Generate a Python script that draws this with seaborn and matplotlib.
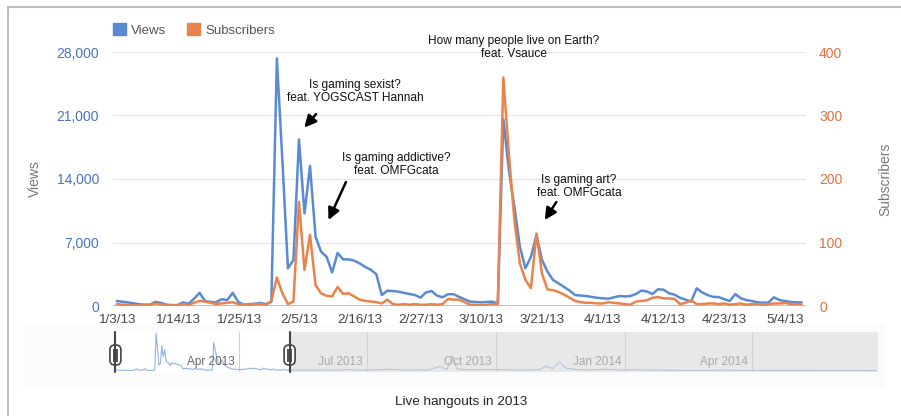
import pandas as pd
import matplotlib
matplotlib.use('Agg')
import matplotlib.pyplot as plt
import matplotlib.dates as mdates
from matplotlib.patches import Patch, Rectangle, FancyBboxPatch
import seaborn as sns

# --- dati (un valore al giorno dal 3/1/2013) ---
start = '2013-01-03'
views = [
    550, 480, 400, 300, 200, 150, 150, 450, 350, 150,
    100, 100, 400, 250, 800, 1450, 550, 450, 400, 750,
    650, 1450, 450, 150, 200, 250, 330, 200, 450, 27300,
    16000, 4150, 5070, 18370, 10210, 15430, 7640, 5990, 5430, 3700,
    5850, 5140, 5140, 5000, 4700, 4300, 4000, 3500, 1210, 1690,
    1650, 1580, 1450, 1320, 1210, 920, 1500, 1650, 1140, 960,
    1300, 1300, 1000, 740, 480, 450, 400, 450, 480, 300,
    20600, 15000, 10950, 6540, 4150, 5430, 7820, 5070, 3780, 2870,
    2500, 2100, 1700, 1210, 1150, 1100, 1000, 900, 850, 800,
    950, 1100, 1050, 1100, 1320, 1700, 1600, 1320, 1840, 1800,
    1400, 1250, 900, 700, 480, 1950, 1500, 1200, 1000, 990,
    750, 550, 1320, 850, 650, 550, 400, 370, 370, 960,
    650, 550, 450, 400, 400,
]
subscribers = [
    3, 2, 2, 1, 1, 1, 2, 4, 3, 1,
    1, 1, 3, 2, 5, 8, 7, 5, 3, 4,
    5, 6, 3, 2, 2, 3, 3, 2, 8, 45,
    20, 3, 7, 164, 57, 112, 33, 20, 16, 15,
    30, 19, 20, 15, 10, 8, 7, 6, 4, 10,
    3, 2, 3, 2, 3, 2, 2, 3, 2, 3,
    11, 10, 10, 6, 2, 2, 1, 2, 3, 3,
    360, 240, 135, 67, 41, 28, 114, 51, 26, 25,
    22, 18, 13, 8, 6, 5, 5, 4, 4, 6,
    5, 4, 3, 2, 7, 8, 9, 13, 14, 12,
    12, 11, 3, 5, 9, 3, 3, 4, 4, 3,
    4, 2, 3, 4, 2, 3, 3, 2, 3, 4,
    4, 5, 3, 3, 3,
]

# visualizzazioni successive, visibili solo nel selettore in basso
later_dates = [
    '2013-05-12', '2013-05-20', '2013-05-29', '2013-06-08', '2013-06-18',
    '2013-06-27', '2013-07-08', '2013-07-18', '2013-07-27', '2013-08-06',
    '2013-08-14', '2013-08-22', '2013-08-27', '2013-08-31', '2013-09-03',
    '2013-09-12', '2013-09-22', '2013-10-04', '2013-10-14', '2013-10-24',
    '2013-11-01', '2013-11-06', '2013-11-10', '2013-11-15', '2013-11-20',
    '2013-11-27', '2013-12-08', '2013-12-18', '2013-12-28', '2014-01-07',
    '2014-01-18', '2014-02-01', '2014-02-20', '2014-03-10', '2014-04-01',
    '2014-04-25', '2014-05-20', '2014-06-15', '2014-06-29',
]
later_views = [
    500, 350, 600, 400, 800,
    450, 700, 1100, 500, 650,
    500, 3200, 900, 11000, 1200,
    700, 900, 800, 600, 500,
    900, 3400, 1500, 6100, 1800,
    900, 600, 1100, 500, 800,
    400, 300, 250, 300, 250,
    200, 200, 150, 150,
]

tick_labels = ['1/3/13', '1/14/13', '1/25/13', '2/5/13', '2/16/13', '2/27/13',
               '3/10/13', '3/21/13', '4/1/13', '4/12/13', '4/23/13', '5/4/13']
views_ticks = [0, 7000, 14000, 21000, 28000]
subs_ticks = [0, 100, 200, 300, 400]

quarter_dates = ['2013-04-01', '2013-07-01', '2013-10-01', '2014-01-01', '2014-04-01']
quarter_labels = ['Apr 2013', 'Jul 2013', 'Oct 2013', 'Jan 2014', 'Apr 2014']

notes = [
    'Is gaming sexist?\nfeat. YOGSCAST Hannah',
    'Is gaming addictive?\nfeat. OMFGcata',
    'How many people live on Earth?\nfeat. Vsauce',
    'Is gaming art?\nfeat. OMFGcata',
]

# --- impostazioni ---
sns.set_theme(style='white')
plt.rcParams['font.family'] = ['Liberation Sans', 'DejaVu Sans']

blue = '#5a8ad2'
orange = '#e9834c'
W, H = 901, 416


def box(x0, y0, x1, y1):
    # rettangolo in pixel (origine in alto a sinistra) -> frazioni della figura
    return [x0 / W, 1 - y1 / H, (x1 - x0) / W, (y1 - y0) / H]


t0 = pd.Timestamp(start)
dates = pd.date_range(start, periods=len(views), freq='D')
df = pd.DataFrame({'date': dates, 'views': views, 'subs': subscribers})


def day(d):
    return mdates.date2num(t0 + pd.Timedelta(days=d))


fig = plt.figure(figsize=(W / 100, H / 100), dpi=100)

# sfondo: cornice e pannello del selettore
bg = fig.add_axes([0, 0, 1, 1])
bg.set_xlim(0, W)
bg.set_ylim(H, 0)
bg.axis('off')
bg.add_patch(Rectangle((23, 324), 862, 64, fc='#fbfbfb', ec='none'))
bg.plot([8, W], [7, 7], color='#bdbdbd', lw=1.5)
bg.plot([8, 8], [7, H], color='#bdbdbd', lw=1.5)

# --- grafico principale ---
ax = fig.add_axes(box(113, 52, 806, 306))
sns.lineplot(data=df, x='date', y='views', ax=ax, color=blue, lw=1.8)
ax2 = ax.twinx()
sns.lineplot(data=df, x='date', y='subs', ax=ax2, color=orange, lw=1.8)

ax.set_xlim(day(-0.67), day(124.8))
ax.set_ylim(0, 28000)
ax2.set_ylim(0, 400)
ax.set_yticks(views_ticks)
ax.set_yticklabels([f'{v:,}' for v in views_ticks])
ax2.set_yticks(subs_ticks)
ax.set_xticks(pd.date_range(start, periods=len(tick_labels), freq='11D'))
ax.set_xticklabels(tick_labels)

ax.tick_params(axis='y', length=0, pad=10, labelsize=10, labelcolor='#4a72c0')
ax2.tick_params(axis='y', length=0, pad=9.4, labelsize=10, labelcolor='#e2703e')
ax.tick_params(axis='x', length=0, pad=6, labelsize=9.7, labelcolor='#444444')
ax.grid(axis='y', color='#e8e8e8', lw=1)
ax.grid(axis='x', visible=False)
ax.axhline(0, color='#b8b8b8', lw=1.3, zorder=1)
for a in (ax, ax2):
    for s in a.spines.values():
        s.set_visible(False)

ax.set_xlabel('')
ax.set_ylabel('Views', color='#777777', fontsize=10)
ax.yaxis.set_label_coords(-0.102, 0.5)
ax2.set_ylabel('Subscribers', color='#777777', fontsize=10)
ax2.yaxis.set_label_coords(1.104, 0.5)

legend_handles = [Patch(color=blue, label='Views'), Patch(color=orange, label='Subscribers')]
ax.legend(handles=legend_handles, loc='lower left', bbox_to_anchor=(0, 1.06), ncol=2,
          frameon=False, fontsize=9.5, handlelength=1.0, handleheight=1.0,
          handletextpad=0.35, columnspacing=1.6, borderpad=0, borderaxespad=0,
          labelcolor='#555555')

# annotazioni degli episodi
text_pos = [(43.15, 23600), (50.6, 15600), (71.9, 28500), (83.7, 13200)]
for txt, (d, v) in zip(notes, text_pos):
    ax.text(day(d), v, txt, ha='center', va='center', fontsize=8.6,
            color='#111111', linespacing=1.1)

arrows = [((36.1, 21160), (33.97, 19670)),
          ((41.5, 13660), (38.35, 9480)),
          ((79.6, 11460), (77.5, 9480))]
for (d0, v0), (d1, v1) in arrows:
    ax.annotate('', xy=(day(d1), v1), xytext=(day(d0), v0),
                arrowprops=dict(arrowstyle='-|>,head_length=0.7,head_width=0.35',
                                color='black', lw=1.8, mutation_scale=10,
                                shrinkA=0, shrinkB=0))

# --- selettore dell'intervallo in basso ---
mini_df = pd.concat([df[['date', 'views']],
                     pd.DataFrame({'date': pd.to_datetime(later_dates), 'views': later_views})])
mini = fig.add_axes(box(115.4, 331.7, 877.7, 371.7))
mini.set_facecolor('white')
sns.lineplot(data=mini_df, x='date', y='views', ax=mini, color='#93b3e0', lw=0.8)
mini.set_xlim(day(0), day(542.6))
mini.set_ylim(-730, 28470)
mini.set_xticks([])
mini.set_yticks([])
mini.set_xlabel('')
mini.set_ylabel('')
for s in mini.spines.values():
    s.set_visible(False)

for qd, lab in zip(quarter_dates, quarter_labels):
    xq = mdates.date2num(pd.Timestamp(qd))
    mini.axvline(xq, color='#d0d0d0', lw=0.8, zorder=0)
    col = '#666666' if pd.Timestamp(qd) < dates[-1] else '#aaaaaa'
    mini.annotate(lab, xy=(xq, 0.24), xycoords=('data', 'axes fraction'),
                  xytext=(-3, 0), textcoords='offset points', ha='right', va='center',
                  fontsize=8.5, color=col, zorder=4)

mini.axvspan(mdates.date2num(dates[-1]), day(542.6), color='#d6d6d6', alpha=0.55, lw=0, zorder=3)

# maniglie del selettore
fg = fig.add_axes([0, 0, 1, 1], zorder=10)
fg.set_xlim(0, W)
fg.set_ylim(H, 0)
fg.patch.set_visible(False)
fg.axis('off')
for dd in (dates[0], dates[-1]):
    xp = mini.transData.transform((mdates.date2num(dd), 0))[0]
    fg.plot([xp, xp], [331.7, 371.7], color='#444444', lw=1.5)
    fg.add_patch(FancyBboxPatch((xp - 5.5, 345), 11, 20,
                                boxstyle='round,pad=0,rounding_size=5',
                                fc='white', ec='#444444', lw=1.2))
    fg.add_patch(Rectangle((xp - 2.3, 348.5), 4.6, 13, fc='#555555', ec='none'))

fig.text(461 / W, 1 - 402 / H, 'Live hangouts in 2013', ha='center', va='center',
         fontsize=9.7, color='#222222')

fig.savefig('out.png', dpi=100)
